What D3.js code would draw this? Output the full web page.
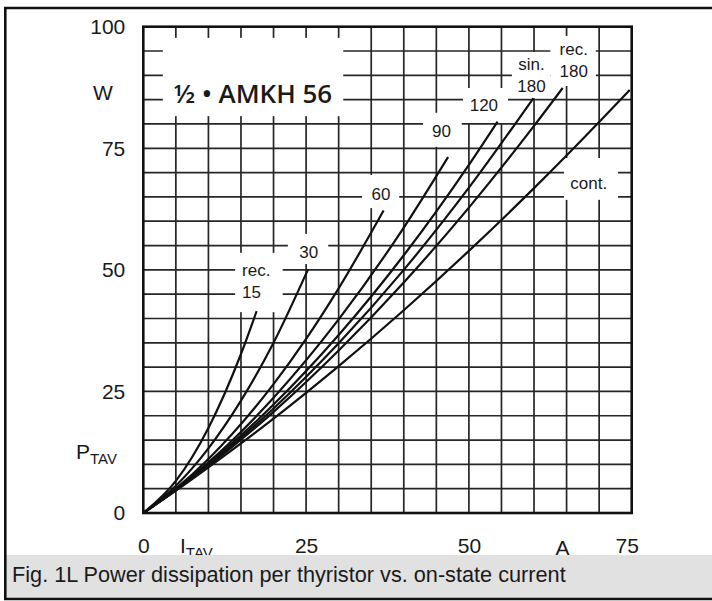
<!DOCTYPE html>
<html>
<head>
<meta charset="utf-8">
<script src="https://d3js.org/d3.v7.min.js"></script>
<style>
body{margin:0;background:#fff;}
svg text{font-family:"Liberation Sans",Arial,sans-serif;fill:#1a1a1a;}
</style>
</head>
<body>
<div id="chart"></div>
<script>
// P_TAV [W] against I_TAV [A]
var rec15  = [[0,0],[5,6.6],[10,17.5],[15,32.7],[17.4,41.5]];
var rec30  = [[0,0],[5,5.6],[10,13.3],[15,23.1],[20,35.0],[25.3,50.1]];
var rec60  = [[0,0],[5,5.0],[10,11.1],[20,26.5],[25,35.8],[30,46.2],[36.9,62.2]];
var rec90  = [[0,0],[5,4.9],[10,10.4],[20,23.7],[30,39.8],[40,58.7],[46.8,73.2]];
var rec120 = [[0,0],[5,4.8],[10,10.1],[20,22.3],[30,36.6],[40,53.0],[50,71.6],[54.4,80.5]];
var sin180 = [[0,0],[5,4.7],[10,9.9],[20,21.5],[30,34.9],[40,50.0],[50,66.9],[59.9,85.3]];
var rec180 = [[0,0],[5,4.7],[10,9.7],[20,20.8],[30,33.4],[40,47.4],[50,62.8],[60,79.6],[64.4,87.4]];
var cont   = [[0,0],[5,4.6],[10,9.4],[20,19.4],[30,30.2],[40,41.7],[50,53.9],[60,66.8],[70,80.4],[74.7,87.0]];

var curveNames = ["rec. 15", "30", "60", "90", "120", "sin. 180", "rec. 180", "cont."];
var curves = [rec15, rec30, rec60, rec90, rec120, sin180, rec180, cont];

var xTicks = [0, 25, 50, 75];
var yTicks = [0, 25, 50, 75, 100];

var title = "½ • AMKH 56";
var caption = "Fig. 1L Power dissipation per thyristor vs. on-state current";

var W = 712, H = 601;
var margin = {top: 26.7, left: 143.3},
    width = 488.4,
    height = 486.3;

var x = d3.scaleLinear().domain([0, 75]).range([margin.left, margin.left + width]);
var y = d3.scaleLinear().domain([0, 100]).range([margin.top + height, margin.top]);

// label text lines, anchor (A, W) and the white box behind it [A0, A1, W0, W1]
var labels = [
  {lines: ["rec.", "15"], at: [15.16, 48.7], anchor: "start", box: [14.1, 21.4, 41.3, 53.5]},
  {lines: ["30"], at: [25.4, 52.4], anchor: "middle", box: [22.2, 28.4, 51.2, 57.4]},
  {lines: ["60"], at: [36.5, 64.4], anchor: "middle", box: [33.6, 39.3, 62.7, 69.5]},
  {lines: ["90"], at: [45.8, 77.3], anchor: "middle", box: [42.95, 48.9, 75.3, 82.3]},
  {lines: ["120"], at: [52.3, 82.6], anchor: "middle", box: [49.1, 56.0, 80.2, 87.4]},
  {lines: ["sin.", "180"], at: [59.6, 91.1], anchor: "middle", box: [56.6, 62.5, 85.3, 94.8]},
  {lines: ["rec.", "180"], at: [66.1, 94.2], anchor: "middle", box: [62.5, 69.5, 87.8, 98.1]},
  {lines: ["cont."], at: [68.4, 66.6], anchor: "middle", box: [64.6, 72.9, 64.4, 73.0]}
];
var titleBox = [3.0, 30.7, 81.6, 97.7];

var svg = d3.select("#chart").append("svg")
    .attr("width", W)
    .attr("height", H);

svg.append("rect").attr("width", W).attr("height", H).attr("fill", "#fff");

//grid
svg.append("g").selectAll("line")
  .data(d3.range(5, 75, 5))
  .enter().append("line")
    .attr("x1", function(d){ return x(d); })
    .attr("x2", function(d){ return x(d); })
    .attr("y1", y(0))
    .attr("y2", y(100))
    .attr("stroke", "#262626")
    .attr("stroke-width", 1.7);

svg.append("g").selectAll("line")
  .data(d3.range(5, 100, 5))
  .enter().append("line")
    .attr("x1", x(0))
    .attr("x2", x(75))
    .attr("y1", function(d){ return y(d); })
    .attr("y2", function(d){ return y(d); })
    .attr("stroke", "#262626")
    .attr("stroke-width", 1.7);

// white knock-outs behind the labels
var boxes = labels.map(function(l){ return l.box; }).concat([titleBox]);
svg.append("g").selectAll("rect")
  .data(boxes)
  .enter().append("rect")
    .attr("x", function(b){ return x(b[0]); })
    .attr("y", function(b){ return y(b[3]); })
    .attr("width", function(b){ return x(b[1]) - x(b[0]); })
    .attr("height", function(b){ return y(b[2]) - y(b[3]); })
    .attr("fill", "#fff");

svg.append("rect")
  .attr("x", x(0)).attr("y", y(100))
  .attr("width", width).attr("height", height)
  .attr("fill", "none")
  .attr("stroke", "#111")
  .attr("stroke-width", 2.6);

var line = d3.line()
  .x(function(d){ return x(d[0]); })
  .y(function(d){ return y(d[1]); })
  .curve(d3.curveMonotoneX);

svg.append("g").selectAll("path")
  .data(curves)
  .enter().append("path")
    .attr("class", function(d, i){ return "curve c" + i; })
    .attr("d", line)
    .attr("fill", "none")
    .attr("stroke", "#111")
    .attr("stroke-width", 2.2);

var lab = svg.append("g").selectAll("text")
  .data(labels)
  .enter().append("text")
    .attr("x", function(d){ return x(d.at[0]); })
    .attr("y", function(d){ return y(d.at[1]); })
    .attr("text-anchor", function(d){ return d.anchor; })
    .attr("font-size", "17px");

lab.selectAll("tspan")
  .data(function(d){ return d.lines.map(function(t){ return {t: t, x: x(d.at[0])}; }); })
  .enter().append("tspan")
    .attr("x", function(d){ return d.x; })
    .attr("dy", function(d, i){ return i ? 22 : 0; })
    .text(function(d){ return d.t; });

svg.append("text")
  .attr("x", x(16.85))
  .attr("y", y(84.3))
  .attr("text-anchor", "middle")
  .attr("font-size", "26px")
  .attr("font-weight", 600)
  .style("font-family", "'Open Sans', sans-serif")
  .text(title);

// axes: labels only
var yAxis = svg.append("g")
  .attr("transform", "translate(" + x(0) + ",0)")
  .call(d3.axisLeft(y).tickValues(yTicks).tickSize(0).tickPadding(18));
var xAxis = svg.append("g")
  .attr("transform", "translate(0," + y(0) + ")")
  .call(d3.axisBottom(x).tickValues(xTicks).tickSize(0).tickPadding(25));
[xAxis, yAxis].forEach(function(a){
  a.select(".domain").remove();
  a.selectAll("text").attr("font-size", "21px").attr("fill", "#1a1a1a")
    .style("font-family", "'Liberation Sans', Arial, sans-serif");
});
// last x label sits a little inside the frame corner
xAxis.selectAll(".tick").filter(function(d){ return d === 75; })
  .select("text").attr("dx", -5);

svg.append("text").attr("x", 103).attr("y", 99.5)
  .attr("text-anchor", "middle").attr("font-size", "21px").text("W");

var pl = svg.append("text").attr("x", 76).attr("y", 459).attr("font-size", "21px");
pl.append("tspan").text("P");
pl.append("tspan").attr("dy", 5).attr("font-size", "15px").text("TAV");

var il = svg.append("text").attr("x", 180).attr("y", 553).attr("font-size", "21px");
il.append("tspan").text("I");
il.append("tspan").attr("dy", 5).attr("font-size", "15px").text("TAV");

svg.append("text").attr("x", 562.5).attr("y", 555)
  .attr("text-anchor", "middle").attr("font-size", "21px").text("A");

// caption band and frame
svg.append("rect").attr("x", 6).attr("y", 555).attr("width", W - 6).attr("height", 43)
  .attr("fill", "#e1e1e1");
svg.append("text").attr("x", 12).attr("y", 582).attr("font-size", "21.7px").text(caption);

svg.append("line").attr("x1", 4).attr("x2", W).attr("y1", 8).attr("y2", 8)
  .attr("stroke", "#111").attr("stroke-width", 2.6);
svg.append("line").attr("x1", 5.3).attr("x2", 5.3).attr("y1", 7).attr("y2", 600)
  .attr("stroke", "#111").attr("stroke-width", 2.6);
svg.append("line").attr("x1", 4).attr("x2", W).attr("y1", 599).attr("y2", 599)
  .attr("stroke", "#111").attr("stroke-width", 2.6);
</script>
</body>
</html>
